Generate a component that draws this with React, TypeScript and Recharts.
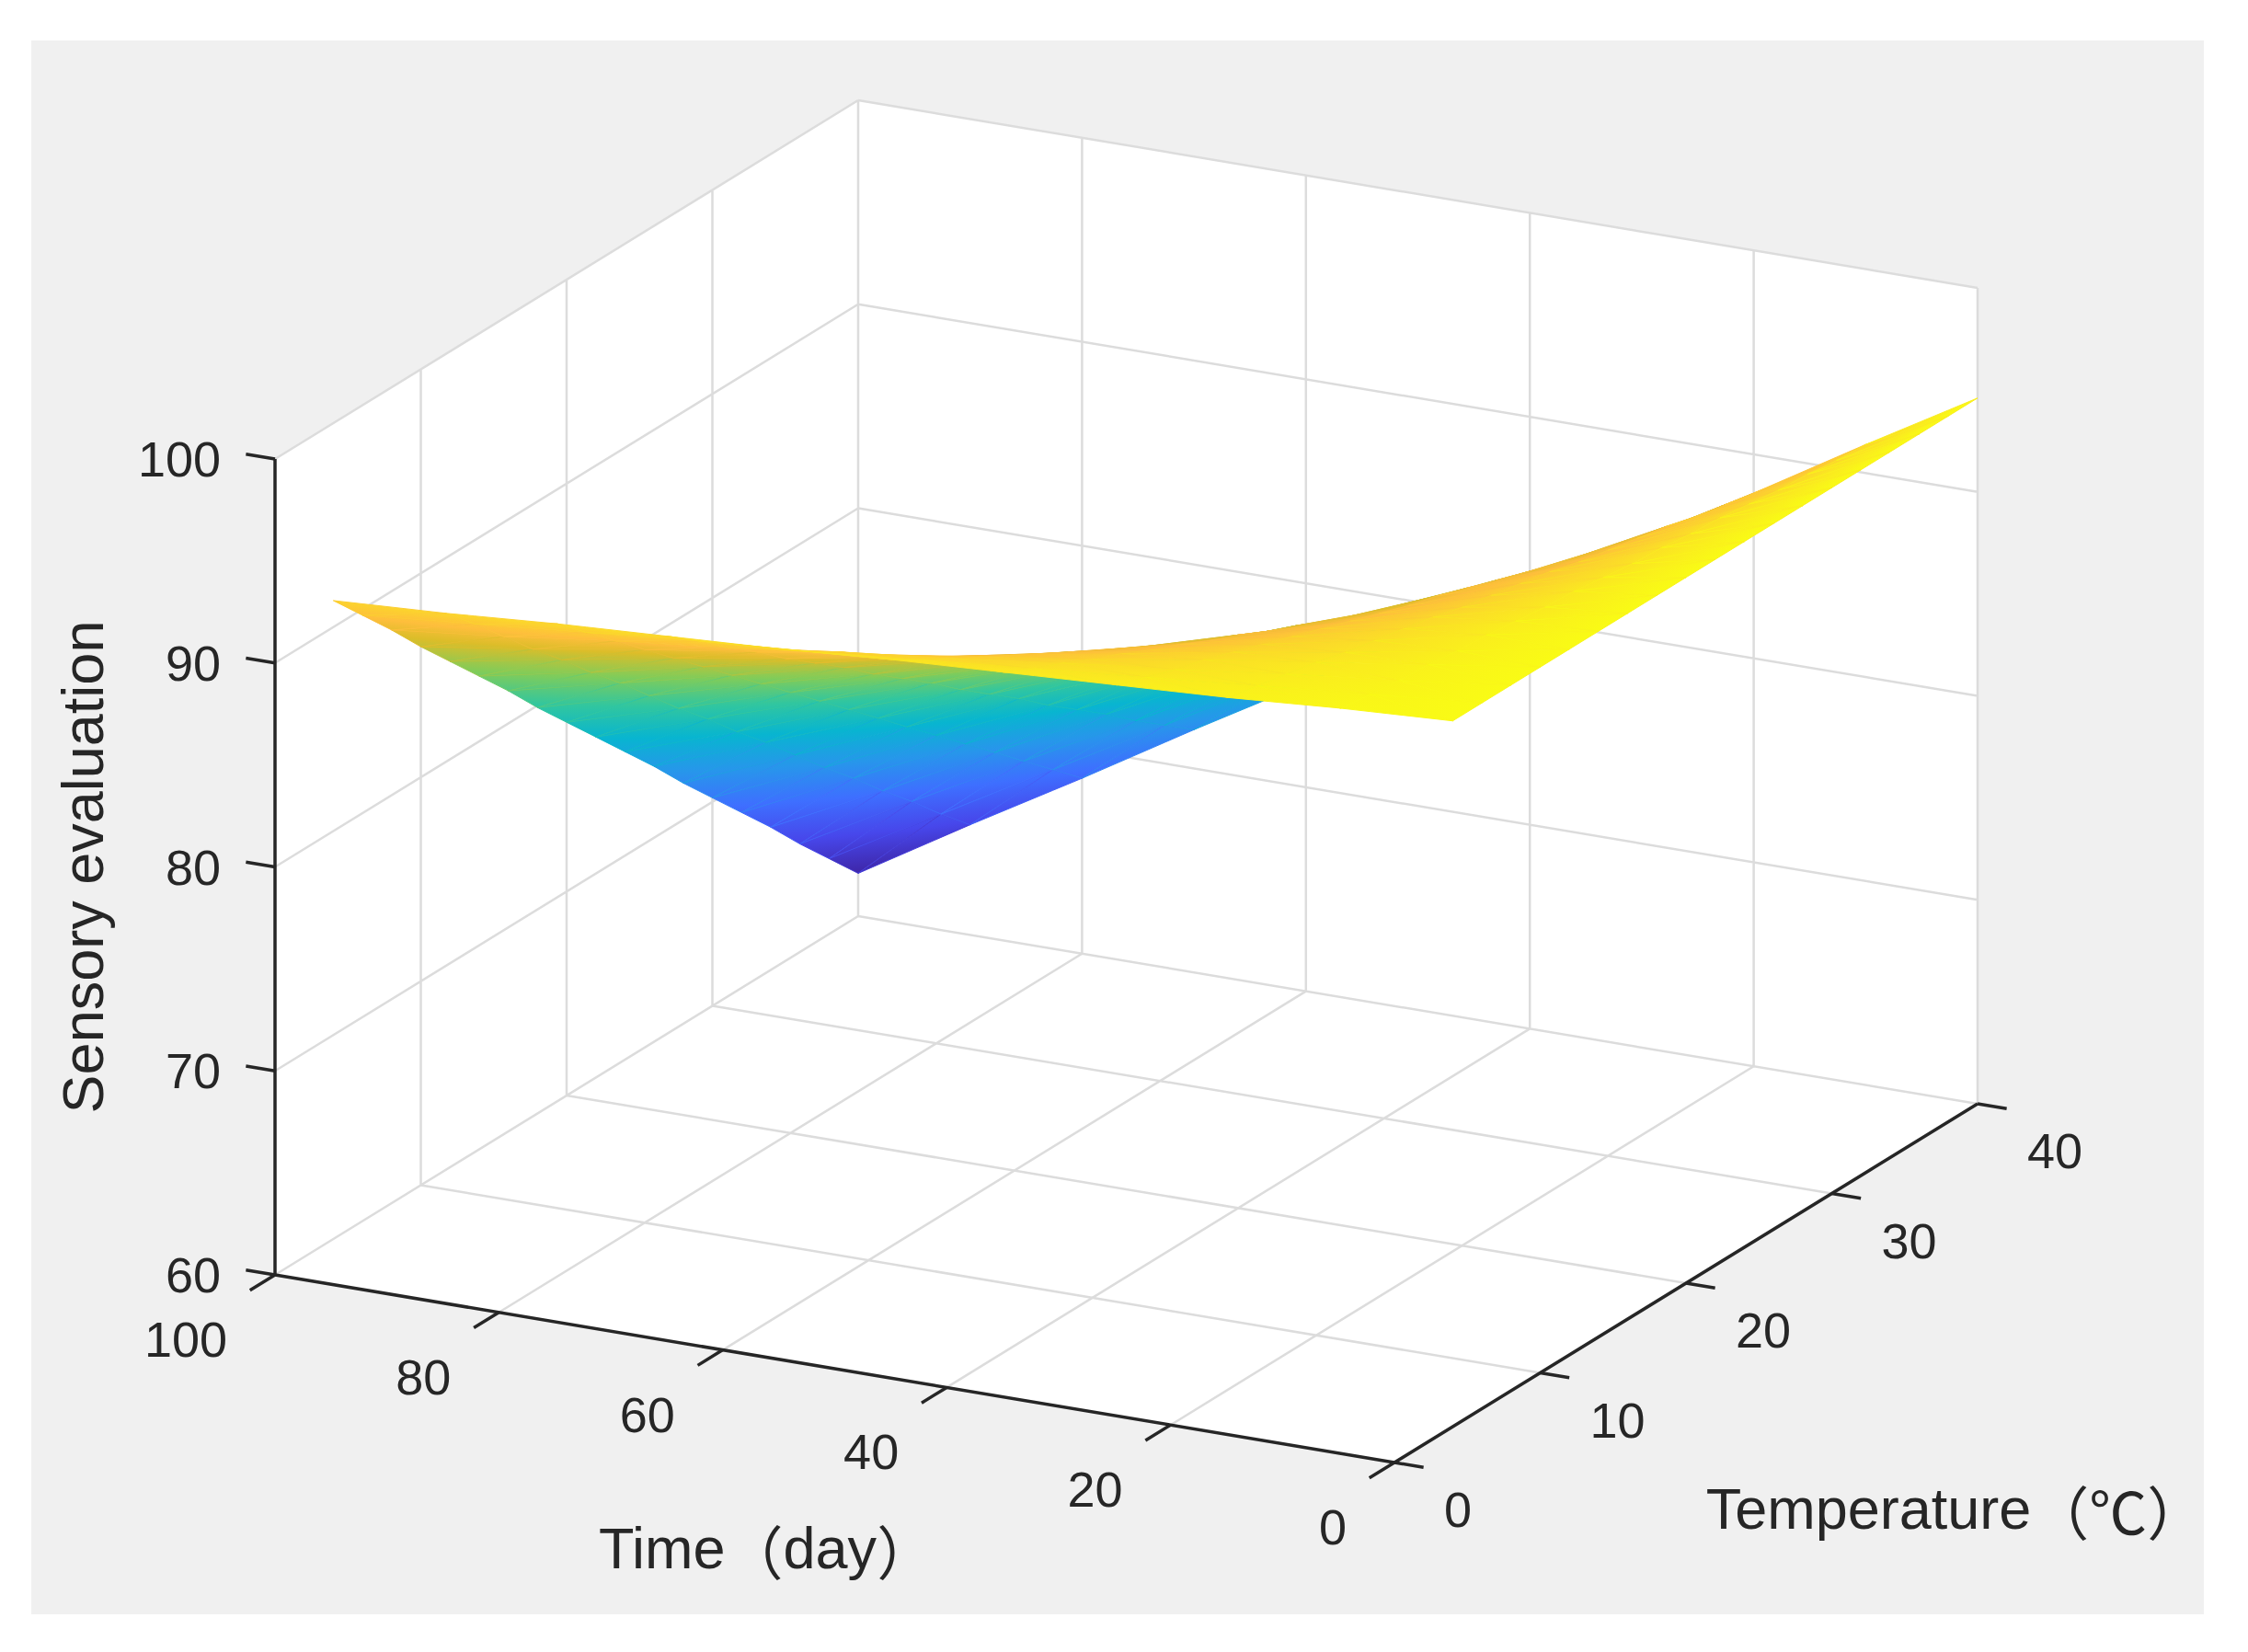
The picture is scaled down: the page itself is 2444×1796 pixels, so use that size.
import React from 'react'
import { ComposedChart, XAxis, YAxis, Line, Area, Scatter } from 'recharts'

// sensory score: one row per storage temperature, one column per day
const days = [0, 10, 20, 30, 40, 50, 60, 70, 80, 90, 100]
const temps = [4, 6, 8, 10, 12, 14, 16, 18, 20, 22, 24, 26, 28, 30, 32, 34, 36, 38, 40]
const scores = [
  [94.6, 94.3, 93.9, 93.6, 93.3, 93.0, 92.6, 92.3, 92.0, 91.6, 91.3],
  [94.6, 94.1, 93.6, 93.1, 92.6, 92.1, 91.6, 91.2, 90.7, 90.2, 89.7],
  [94.6, 93.9, 93.3, 92.6, 92.0, 91.3, 90.7, 90.0, 89.4, 88.7, 88.1],
  [94.6, 93.8, 93.0, 92.2, 91.3, 90.5, 89.7, 88.9, 88.1, 87.2, 86.4],
  [94.6, 93.6, 92.6, 91.7, 90.7, 89.7, 88.7, 87.7, 86.8, 85.8, 84.8],
  [94.6, 93.5, 92.3, 91.2, 90.0, 88.9, 87.8, 86.6, 85.5, 84.3, 83.2],
  [94.6, 93.3, 92.0, 90.7, 89.4, 88.1, 86.8, 85.5, 84.2, 82.9, 81.6],
  [94.6, 93.1, 91.7, 90.2, 88.7, 87.3, 85.8, 84.3, 82.9, 81.4, 79.9],
  [94.6, 93.0, 91.3, 89.7, 88.1, 86.5, 84.8, 83.2, 81.6, 79.9, 78.3],
  [94.6, 92.8, 91.0, 89.2, 87.4, 85.7, 83.9, 82.1, 80.3, 78.5, 76.7],
  [94.6, 92.6, 90.7, 88.7, 86.8, 84.8, 82.9, 80.9, 79.0, 77.0, 75.1],
  [94.6, 92.5, 90.4, 88.3, 86.1, 84.0, 81.9, 79.8, 77.7, 75.6, 73.5],
  [94.6, 92.3, 90.0, 87.8, 85.5, 83.2, 80.9, 78.7, 76.4, 74.1, 71.8],
  [94.6, 92.2, 89.7, 87.3, 84.8, 82.4, 80.0, 77.5, 75.1, 72.6, 70.2],
  [94.6, 92.0, 89.4, 86.8, 84.2, 81.6, 79.0, 76.4, 73.8, 71.2, 68.6],
  [94.6, 91.8, 89.1, 86.3, 83.5, 80.8, 78.0, 75.3, 72.5, 69.7, 67.0],
  [94.6, 91.7, 88.7, 85.8, 82.9, 80.0, 77.0, 74.1, 71.2, 68.3, 65.3],
  [94.6, 91.5, 88.4, 85.3, 82.2, 79.2, 76.1, 73.0, 69.9, 66.8, 63.7],
  [94.6, 91.4, 88.1, 84.9, 81.6, 78.4, 75.1, 71.9, 68.6, 65.4, 62.1],
]

const dayTicks = [0, 20, 40, 60, 80, 100]
const tempTicks = [0, 10, 20, 30, 40]
const scoreTicks = [60, 70, 80, 90, 100]

const DAY_MAX = 100
const TEMP_MAX = 40
const SCORE_MIN = 60
const SCORE_MAX = 100

// camera: where the axis box sits inside the chart
const W = 2362
const H = 1711
const ORIGIN = { x: 1482, y: 1546 } // day 0, 0 ℃, score 60
const DAY_STEP = { x: -12.17, y: -2.04 }
const DEG_STEP = { x: 15.85, y: -9.75 }
const POINT_STEP = -22.175
const DEPTH = { day: 0.00824, deg: 0.03955, point: -0.0103 }

const TEXT = '#262626'
const GRID = '#dcdcdc'
const FONT = "'Liberation Sans', Arial, 'Noto Sans CJK SC', sans-serif"
const CJK = "'Noto Sans CJK SC', 'Noto Sans CJK JP', sans-serif"

const PARULA: [number, string][] = [
  [0, '#3e26a8'],
  [0.111, '#4747eb'],
  [0.222, '#3e6fff'],
  [0.333, '#2796eb'],
  [0.444, '#08b5d0'],
  [0.556, '#31c69f'],
  [0.667, '#81cc59'],
  [0.778, '#dcbd29'],
  [0.841, '#febe3c'],
  [0.889, '#fccf30'],
  [1, '#f9fb15'],
]

type P = { x: number; y: number | null }

const project = (day: number, deg: number, score: number) => ({
  x: ORIGIN.x + day * DAY_STEP.x + deg * DEG_STEP.x,
  y: ORIGIN.y + day * DAY_STEP.y + deg * DEG_STEP.y + (score - SCORE_MIN) * POINT_STEP,
})

const depthOf = (day: number, deg: number, score: number) =>
  day * DEPTH.day + deg * DEPTH.deg + (score - SCORE_MIN) * DEPTH.point

const hexToRgb = (h: string) => [1, 3, 5].map((i) => parseInt(h.slice(i, i + 2), 16))

const colorAt = (v: number) => {
  const c = Math.max(0, Math.min(1, v))
  for (let i = 1; i < PARULA.length; i++) {
    const [o1, c1] = PARULA[i]
    const [o0, c0] = PARULA[i - 1]
    if (c <= o1) {
      const s = (c - o0) / (o1 - o0)
      const a = hexToRgb(c0)
      const b = hexToRgb(c1)
      const m = a.map((x, k) => Math.round(x + (b[k] - x) * s))
      return `rgb(${m[0]},${m[1]},${m[2]})`
    }
  }
  return PARULA[PARULA.length - 1][1]
}

// convex polygon -> range area data (lower/upper y at each vertex x)
const toRange = (pts: { x: number; y: number }[]) => {
  const xs = [...new Set(pts.map((p) => Math.round(p.x * 100) / 100))].sort((a, b) => a - b)
  return xs.map((x) => {
    const ys: number[] = []
    pts.forEach((a, i) => {
      const b = pts[(i + 1) % pts.length]
      if (x < Math.min(a.x, b.x) - 0.02 || x > Math.max(a.x, b.x) + 0.02) return
      if (Math.abs(b.x - a.x) < 0.02) {
        ys.push(a.y, b.y)
      } else {
        const s = Math.max(0, Math.min(1, (x - a.x) / (b.x - a.x)))
        ys.push(a.y + s * (b.y - a.y))
      }
    })
    return { x, range: [Math.min(...ys), Math.max(...ys)] }
  })
}

const segments = (list: { x: number; y: number }[][]): P[] =>
  list.flatMap(([a, b]) => [a, b, { x: b.x, y: null }])

// surface faces
const allScores = scores.flat()
const zLo = Math.min(...allScores)
const zHi = Math.max(...allScores)
const level = (z: number) => (z - zLo) / (zHi - zLo)

type V = { day: number; deg: number; score: number }
const tris: V[][] = []
for (let i = 0; i < temps.length - 1; i++) {
  for (let j = 0; j < days.length - 1; j++) {
    const v = (r: number, c: number): V => ({ day: days[c], deg: temps[r], score: scores[r][c] })
    const a = v(i, j)
    const b = v(i, j + 1)
    const c = v(i + 1, j + 1)
    const d = v(i + 1, j)
    tris.push([a, b, c], [a, c, d])
  }
}

const faces = tris
  .map((tri) => {
    const depth = tri.reduce((s, p) => s + depthOf(p.day, p.deg, p.score), 0) / 3
    const pts = tri.map((p) => project(p.day, p.deg, p.score))
    const lv = tri.map((p) => level(p.score))
    const mean = (lv[0] + lv[1] + lv[2]) / 3
    const minX = Math.min(...pts.map((p) => p.x))
    const maxX = Math.max(...pts.map((p) => p.x))
    const minY = Math.min(...pts.map((p) => p.y))
    const maxY = Math.max(...pts.map((p) => p.y))
    const wx = maxX - minX
    const wy = maxY - minY
    let grad: number[] | null = null
    if (wx > 0.5 && wy > 0.5) {
      const f = pts.map((p) => [(p.x - minX) / wx, (p.y - minY) / wy])
      const e1 = [f[1][0] - f[0][0], f[1][1] - f[0][1]]
      const e2 = [f[2][0] - f[0][0], f[2][1] - f[0][1]]
      const det = e1[0] * e2[1] - e1[1] * e2[0]
      if (Math.abs(det) > 1e-6) {
        const dc1 = lv[1] - lv[0]
        const dc2 = lv[2] - lv[0]
        const a = (dc1 * e2[1] - dc2 * e1[1]) / det
        const b = (dc2 * e1[0] - dc1 * e2[0]) / det
        const d = lv[0] - a * f[0][0] - b * f[0][1]
        const n = a * a + b * b
        if (n > 1e-9) {
          const x1 = (-d * a) / n
          const y1 = (-d * b) / n
          grad = [x1, y1, x1 + a / n, y1 + b / n]
        }
      }
    }
    return { depth, range: toRange(pts), color: colorAt(mean), grad }
  })
  .sort((p, q) => q.depth - p.depth)

// box walls, grid, axes, ticks
const wall = toRange([
  project(DAY_MAX, 0, SCORE_MIN),
  project(DAY_MAX, 0, SCORE_MAX),
  project(DAY_MAX, TEMP_MAX, SCORE_MAX),
  project(0, TEMP_MAX, SCORE_MAX),
  project(0, TEMP_MAX, SCORE_MIN),
  project(0, 0, SCORE_MIN),
])

const gridData = segments([
  ...tempTicks.filter((t) => t > 0).map((t) => [project(DAY_MAX, t, SCORE_MIN), project(DAY_MAX, t, SCORE_MAX)]),
  ...scoreTicks.map((z) => [project(DAY_MAX, 0, z), project(DAY_MAX, TEMP_MAX, z)]),
  ...dayTicks.map((d) => [project(d, TEMP_MAX, SCORE_MIN), project(d, TEMP_MAX, SCORE_MAX)]),
  ...scoreTicks.map((z) => [project(0, TEMP_MAX, z), project(DAY_MAX, TEMP_MAX, z)]),
  ...dayTicks.filter((d) => d > 0).map((d) => [project(d, 0, SCORE_MIN), project(d, TEMP_MAX, SCORE_MIN)]),
  ...tempTicks.filter((t) => t > 0).map((t) => [project(0, t, SCORE_MIN), project(DAY_MAX, t, SCORE_MIN)]),
])

const axisData = segments([
  [project(DAY_MAX, 0, SCORE_MIN), project(DAY_MAX, 0, SCORE_MAX)],
  [project(0, 0, SCORE_MIN), project(DAY_MAX, 0, SCORE_MIN)],
  [project(0, 0, SCORE_MIN), project(0, TEMP_MAX, SCORE_MIN)],
])

const DAY_TICK = 2.6
const DEG_TICK = 1.72
const tickData = segments([
  ...scoreTicks.map((z) => [project(DAY_MAX, 0, z), project(DAY_MAX + DAY_TICK, 0, z)]),
  ...dayTicks.map((d) => [project(d, 0, SCORE_MIN), project(d, -DEG_TICK, SCORE_MIN)]),
  ...tempTicks.map((t) => [project(0, t, SCORE_MIN), project(-DAY_TICK, t, SCORE_MIN)]),
])

const scoreLabels = scoreTicks.map((z) => ({ ...project(DAY_MAX, 0, z), label: String(z) }))
const dayLabels = dayTicks.map((d) => ({ ...project(d, 0, SCORE_MIN), label: String(d) }))
const tempLabels = tempTicks.map((t) => ({ ...project(0, t, SCORE_MIN), label: String(t) }))
const zTitle = [{ ...project(DAY_MAX, 0, 80), label: 'Sensory evaluation' }]
const dayTitle = [{ ...project(50, 0, SCORE_MIN), label: 'Time（day）' }]
const tempTitle = [{ ...project(0, 20, SCORE_MIN), label: 'Temperature（℃）' }]

// full-width brackets and ℃ come from the CJK face, as in the MATLAB export
const renderText = (s: string) =>
  s.split(/([（）℃]+)/).filter(Boolean).map((part, i) =>
    /[（）℃]/.test(part) ? (
      <tspan key={i} fontFamily={CJK}>
        {part}
      </tspan>
    ) : (
      <tspan key={i}>{part}</tspan>
    )
  )

const labelShape =
  (dx: number, dy: number, anchor: 'start' | 'middle' | 'end', size: number, rotate = 0) =>
  (props: any) => {
    const x = props.cx + dx
    const y = props.cy + dy
    return (
      <text
        x={x}
        y={y}
        textAnchor={anchor}
        dominantBaseline="central"
        fontSize={size}
        fontFamily={FONT}
        fill={TEXT}
        transform={rotate ? `rotate(${rotate} ${x} ${y})` : undefined}
      >
        {renderText(props.payload.label)}
      </text>
    )
  }

const App = () => (
  <div style={{ position: 'absolute', left: 0, top: 0, width: 2444, height: 1796, background: '#fff' }}>
    <div style={{ position: 'absolute', left: 34, top: 44, width: W, height: H, background: '#f0f0f0' }}>
      <ComposedChart width={W} height={H} margin={{ top: 0, right: 0, bottom: 0, left: 0 }}>
        <defs>
          {faces.map((f, i) =>
            f.grad ? (
              <linearGradient key={i} id={`face${i}`} x1={f.grad[0]} y1={f.grad[1]} x2={f.grad[2]} y2={f.grad[3]}>
                {PARULA.map(([o, c]) => (
                  <stop key={o} offset={o} stopColor={c} />
                ))}
              </linearGradient>
            ) : null
          )}
        </defs>
        <XAxis type="number" dataKey="x" domain={[0, W]} hide allowDataOverflow />
        <YAxis type="number" dataKey="y" domain={[0, H]} reversed hide allowDataOverflow />
        <Area
          data={wall}
          dataKey="range"
          type="linear"
          fill="#ffffff"
          fillOpacity={1}
          stroke="none"
          zIndex={10}
          isAnimationActive={false}
        />
        <Line
          data={gridData}
          dataKey="y"
          type="linear"
          stroke={GRID}
          strokeWidth={2.5}
          dot={false}
          activeDot={false}
          zIndex={20}
          isAnimationActive={false}
        />
        {faces.map((f, i) => (
          <Area
            key={i}
            data={f.range}
            dataKey="range"
            type="linear"
            fill={f.grad ? `url(#face${i})` : f.color}
            fillOpacity={1}
            stroke={f.color}
            strokeWidth={1}
            dot={false}
            activeDot={false}
            zIndex={100}
            isAnimationActive={false}
          />
        ))}
        <Line
          data={axisData}
          dataKey="y"
          type="linear"
          stroke={TEXT}
          strokeWidth={3.5}
          dot={false}
          activeDot={false}
          zIndex={400}
          isAnimationActive={false}
        />
        <Line
          data={tickData}
          dataKey="y"
          type="linear"
          stroke={TEXT}
          strokeWidth={3.5}
          dot={false}
          activeDot={false}
          zIndex={400}
          isAnimationActive={false}
        />
        <Scatter data={scoreLabels} shape={labelShape(-59, 0, 'end', 54)} isAnimationActive={false} />
        <Scatter data={dayLabels} shape={labelShape(-52, 70, 'end', 54)} isAnimationActive={false} />
        <Scatter data={tempLabels} shape={labelShape(54, 51, 'start', 54)} isAnimationActive={false} />
        <Scatter data={zTitle} shape={labelShape(-209, 0, 'middle', 63, -90)} isAnimationActive={false} />
        <Scatter data={dayTitle} shape={labelShape(-74, 195, 'middle', 63)} isAnimationActive={false} />
        <Scatter data={tempTitle} shape={labelShape(293, 245, 'middle', 63)} isAnimationActive={false} />
      </ComposedChart>
    </div>
  </div>
)

export default App
